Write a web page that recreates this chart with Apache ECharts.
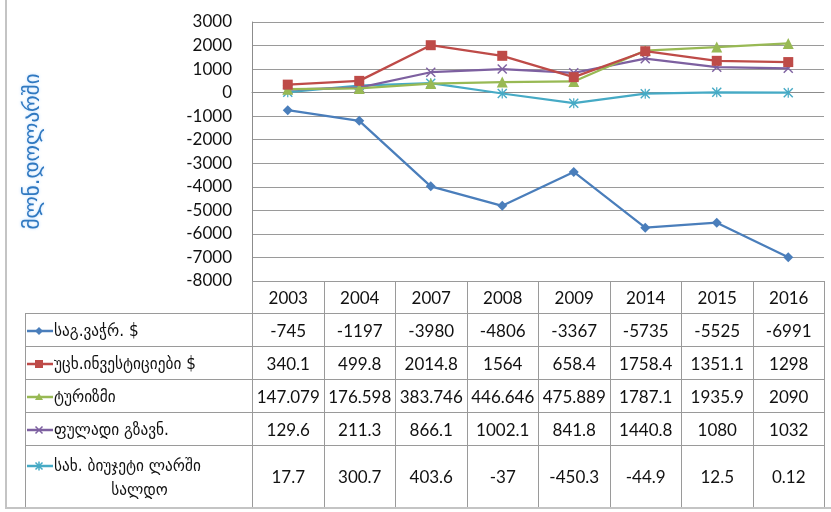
<!DOCTYPE html>
<html><head><meta charset="utf-8">
<script src="https://cdn.jsdelivr.net/npm/echarts@6/dist/echarts.min.js"></script>
<style>
html,body{margin:0;padding:0;background:#fff;}
#wrap{position:relative;width:831px;height:512px;overflow:hidden;}
#chart{position:absolute;left:0;top:0;width:831px;height:512px;}
#frame{position:absolute;left:5px;top:-2px;width:830px;height:511px;border-left:2px solid #c4c4c4;border-bottom:2px solid #c4c4c4;box-sizing:border-box;pointer-events:none;}
#tbl{position:absolute;left:25px;top:281px;border-collapse:collapse;table-layout:fixed;font-family:Lato,'DejaVu Sans',sans-serif;font-size:17px;color:#111;}
#tbl td{border:1px solid #9a9a9a;text-align:center;padding:0;white-space:nowrap;overflow:hidden;}
#tbl td.lab{text-align:left;white-space:normal;font-family:'DejaVu Sans Condensed','DejaVu Sans',sans-serif;font-size:17px;line-height:24px;padding-left:1px;}
#tbl td.blank{border:none;}
#tbl svg{vertical-align:middle;margin-right:1px;}
</style></head>
<body><div id="wrap"><div id="chart"></div><table id="tbl"></table><div id="frame"></div></div>
<script>
const years = ['2003','2004','2007','2008','2009','2014','2015','2016'];
const seriesNames = ['საგ.ვაჭრ. $','უცხ.ინვესტიციები $','ტურიზმი','ფულადი გზავნ.','სახ. ბიუჯეტი ლარში სალდო'];
const trade   = [-745,-1197,-3980,-4806,-3367,-5735,-5525,-6991];
const fdi     = [340.1,499.8,2014.8,1564,658.4,1758.4,1351.1,1298];
const tourism = [147.079,176.598,383.746,446.646,475.889,1787.1,1935.9,2090];
const remit   = [129.6,211.3,866.1,1002.1,841.8,1440.8,1080,1032];
const budget  = [17.7,300.7,403.6,-37,-450.3,-44.9,12.5,0.12];
const yTicks = [3000,2000,1000,0,-1000,-2000,-3000,-4000,-5000,-6000,-7000,-8000];
const axisTitle = 'მლნ.დოლარში';

const allData = [trade, fdi, tourism, remit, budget];
const colors = ['#4a7ebb','#be4b48','#98b954','#7d60a0','#46aac5'];
const xPath = 'path://M0,1L1,0L5,4L9,0L10,1L6,5L10,9L9,10L5,6L1,10L0,9L4,5Z';
const starPath = 'path://M0,1L1,0L5,4L9,0L10,1L6,5L10,9L9,10L5,6L1,10L0,9L4,5ZM4.4,0L5.6,0L5.6,10L4.4,10Z';
const symbols = ['diamond','rect','triangle',xPath,starPath];
const sizes = [10,10,11,10,10];

const chart = echarts.init(document.getElementById('chart'));
chart.setOption({
  animation:false,
  grid:{left:252,top:22,width:572,height:259,containLabel:false},
  xAxis:{type:'category',data:years,boundaryGap:true,
    axisLine:{show:true,onZero:true,lineStyle:{color:'#8c8c8c',width:1}},
    axisTick:{show:false},axisLabel:{show:false},splitLine:{show:false}},
  yAxis:{type:'value',min:yTicks[yTicks.length-1],max:yTicks[0],interval:1000,
    name:axisTitle,nameLocation:'middle',nameRotate:90,nameGap:208,
    nameTextStyle:{fontFamily:'DejaVu Sans',fontSize:21,color:'#2f78c0',textShadowColor:'rgba(150,200,255,0.7)',textShadowBlur:3},
    axisLine:{show:true,lineStyle:{color:'#8c8c8c',width:1}},
    axisTick:{show:false},
    axisLabel:{fontFamily:'Lato',fontSize:17,color:'#111',margin:20,formatter:v=>String(v)},
    splitLine:{show:true,lineStyle:{color:'#9a9a9a',width:1}}},
  series: allData.map((d,i)=>({
    name:seriesNames[i],type:'line',data:d,symbol:symbols[i],symbolSize:sizes[i],
    showAllSymbol:true,
    lineStyle:{color:colors[i],width:2.25},
    itemStyle:{color:colors[i]},
    z: 10-i
  }))
});

// data table built from arrays
const tbl = document.getElementById('tbl');
const cg = document.createElement('colgroup');
let c0 = document.createElement('col'); c0.style.width='227px'; cg.appendChild(c0);
years.forEach(()=>{const c=document.createElement('col'); c.style.width='71.5px'; cg.appendChild(c);});
tbl.appendChild(cg);
function keySvg(i){
  const col = colors[i];
  let m='';
  if(i===0) m=`<polygon points="12,2 16,6 12,10 8,6" fill="${col}"/>`;
  else if(i===1) m=`<rect x="8" y="2" width="8" height="8" fill="${col}"/>`;
  else if(i===2) m=`<polygon points="12,2 16,9 8,9" fill="${col}"/>`;
  else if(i===3) m=`<path d="M8.5,2.5L15.5,9.5M15.5,2.5L8.5,9.5" stroke="${col}" stroke-width="1.5"/>`;
  else m=`<path d="M8.5,2.5L15.5,9.5M15.5,2.5L8.5,9.5M12,1.5L12,10.5" stroke="${col}" stroke-width="1.5"/>`;
  return `<svg width="26" height="12" viewBox="0 0 26 12"><line x1="0" y1="6" x2="26" y2="6" stroke="${col}" stroke-width="2.5"/>${m}</svg>`;
}
let hr = document.createElement('tr'); hr.style.height='32px';
let b = document.createElement('td'); b.className='blank'; hr.appendChild(b);
years.forEach(y=>{const td=document.createElement('td'); td.textContent=y; hr.appendChild(td);});
tbl.appendChild(hr);
allData.forEach((d,i)=>{
  const tr=document.createElement('tr'); tr.style.height = (i===4?'62px':'33px');
  const lab=document.createElement('td'); lab.className='lab';
  lab.innerHTML = keySvg(i) + '<span class="nm"></span>';
  lab.querySelector('.nm').textContent = seriesNames[i];
  tr.appendChild(lab);
  d.forEach(v=>{const td=document.createElement('td'); td.textContent=String(v); tr.appendChild(td);});
  tbl.appendChild(tr);
});
document.querySelectorAll('#tbl td.lab').forEach(td=>{
  const sp = td.querySelector('.nm');
  if(sp.getClientRects().length>1) td.style.textAlignLast='center';
});
</script>
</body></html>
